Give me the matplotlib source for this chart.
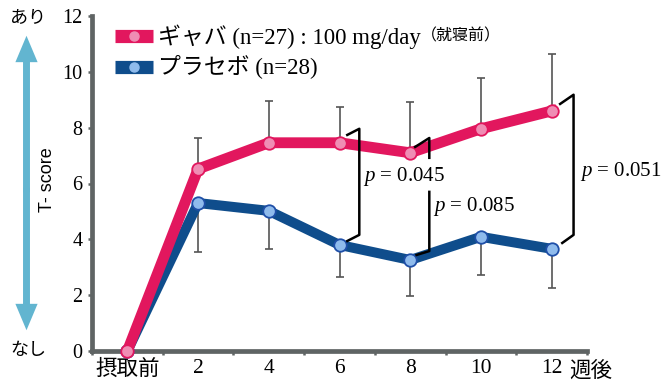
import matplotlib.pyplot as plt
import numpy as np
from matplotlib.patches import FancyArrowPatch

# T-score over time, GABA vs placebo
timepoints = ["摂取前", "2", "4", "6", "8", "10", "12"]
gaba = [0, 6.52, 7.46, 7.46, 7.10, 7.96, 8.60]
gaba_err = [0, 1.11, 1.50, 1.29, 1.82, 1.82, 2.05]
placebo = [0, 5.30, 5.02, 3.80, 3.26, 4.09, 3.66]
placebo_err = [0, 1.75, 1.36, 1.15, 1.29, 1.37, 1.40]

p_labels = ["0.045", "0.085", "0.051"]
p_text_pos = [(3.33, 6.24), (4.32, 5.16), (6.40, 6.42)]

pink = "#e2175e"
pink_light = "#ef8db4"
blue = "#0f4d8c"
blue_light = "#8fbbec"
axis_gray = "#5f6464"

plt.rcParams["font.family"] = ["Liberation Serif", "Noto Sans CJK JP"]
plt.rcParams["mathtext.fontset"] = "custom"
plt.rcParams["mathtext.it"] = "Liberation Serif:italic"
plt.rcParams["mathtext.rm"] = "Liberation Serif"

fig = plt.figure(figsize=(6.72, 3.85), dpi=100)
ax = fig.add_axes([92 / 672, 1 - 351 / 385, 495 / 672, 335 / 385])

x = np.arange(len(timepoints))
n = len(x) - 1

# error bars: upper half for GABA, lower half for placebo
ax.errorbar(x[1:], gaba[1:], yerr=[np.zeros(n), gaba_err[1:]], fmt="none",
            ecolor="#555555", elinewidth=1.2, capsize=3, capthick=1.2, zorder=1)
ax.errorbar(x[1:], placebo[1:], yerr=[placebo_err[1:], np.zeros(n)], fmt="none",
            ecolor="#555555", elinewidth=1.2, capsize=3, capthick=1.2, zorder=1)

ax.plot(x, placebo, color=blue, lw=7.2, marker="o", ms=9, mfc=blue_light,
        mec="#1f4fa8", mew=1.3, solid_joinstyle="round", zorder=3, clip_on=False)
ax.plot(x, gaba, color=pink, lw=7.8, marker="o", ms=9, mfc=pink_light,
        mec=pink, mew=1.3, solid_joinstyle="round", zorder=4, clip_on=False)

# significance brackets
bk = dict(color="black", lw=1.8, clip_on=False, zorder=5)
ax.plot([3.11, 3.28, 3.28, 3.11], [7.74, 7.96, 4.16, 3.94], **bk)
ax.plot([4.07, 4.27, 4.27], [7.31, 7.63, 6.92], **bk)
ax.plot([4.27, 4.27, 4.09], [5.70, 3.58, 3.44], **bk)
ax.plot([6.12, 6.31, 6.31, 6.15], [8.85, 9.18, 4.16, 3.87], **bk)

for lab, (px, py) in zip(p_labels, p_text_pos):
    ax.text(px, py, r"$p$ = " + lab, fontsize=15, va="center", ha="left",
            zorder=6)

ax.set_xlim(-0.5, 6.5)
ax.set_ylim(0, 12)
ax.set_xticks(x)
ax.set_xticklabels(timepoints, fontsize=15.5)
ax.set_xticks(np.arange(-0.5, 7, 1), minor=True)
ax.tick_params(axis="x", which="major", length=0, pad=6)
ax.tick_params(axis="x", which="minor", length=3, width=1.8, color=axis_gray)
ax.set_yticks(range(0, 13, 2))
ax.tick_params(axis="y", length=3, width=1.8, color=axis_gray, pad=4,
               labelsize=14.5)
for s in ["top", "right"]:
    ax.spines[s].set_visible(False)
for s in ["left", "bottom"]:
    ax.spines[s].set_linewidth(3.4)
    ax.spines[s].set_color(axis_gray)

ax.text(6.25, -0.06, "週後", transform=ax.get_xaxis_transform(),
        fontsize=15.5, ha="left", va="center", family="Noto Sans CJK JP")

# legend drawn by hand
for yy, col, light, label in [(0.939, pink, pink_light, "ギャバ (n=27) : 100 mg/day"),
                              (0.849, blue, blue_light, "プラセボ (n=28)")]:
    ax.plot([0.046, 0.123], [yy, yy], transform=ax.transAxes, color=col,
            lw=9.5, solid_capstyle="butt", clip_on=False)
    ax.plot(0.0845, yy, "o", transform=ax.transAxes, ms=6.5, mfc=light,
            mec=light, clip_on=False)
    t = ax.text(0.134, yy, label, transform=ax.transAxes, fontsize=16.5,
                va="center", ha="left")
    if col == pink:
        ax.annotate("（就寝前）", xy=(1, 0.5), xycoords=t, xytext=(0, 0),
                    textcoords="offset points", fontsize=11.5, va="center",
                    ha="left", family="Noto Sans CJK JP")

# left-hand scale annotation
fig.text(28 / 672, 1 - 18 / 385, "あり", fontsize=13, ha="center",
         va="center", family="Noto Sans CJK JP")
fig.text(28 / 672, 1 - 350 / 385, "なし", fontsize=13, ha="center",
         va="center", family="Noto Sans CJK JP")
fig.text(47 / 672, 1 - 180 / 385, "T- score", fontsize=13, rotation=90,
         ha="center", va="center", family="Liberation Sans")

arrow_kw = dict(arrowstyle="simple,head_length=1.9,head_width=1.6,tail_width=0.5",
                mutation_scale=10, color="#62b5d0", lw=0,
                transform=fig.dpi_scale_trans)
fig.patches.append(FancyArrowPatch((0.265, 1.9), (0.265, 3.52), **arrow_kw))
fig.patches.append(FancyArrowPatch((0.265, 2.0), (0.265, 0.52), **arrow_kw))

fig.savefig("out.png", dpi=100)
